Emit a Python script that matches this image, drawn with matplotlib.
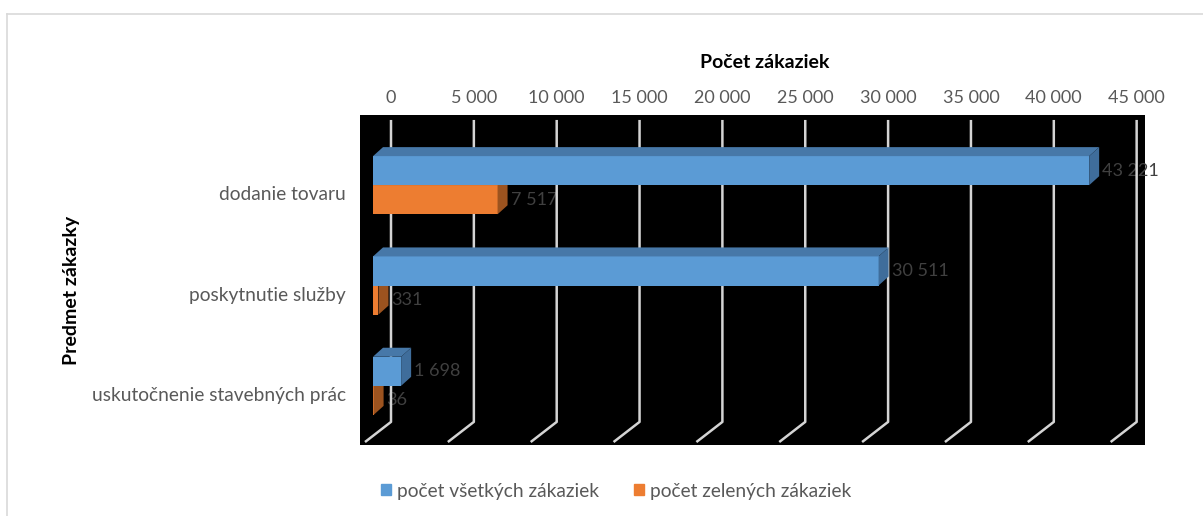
import matplotlib
matplotlib.use('Agg')
import matplotlib.pyplot as plt
from matplotlib.patches import Polygon, Patch
from matplotlib.transforms import ScaledTranslation

plt.rcParams['font.family'] = ['Lato', 'DejaVu Sans']

# data
categories = ['dodanie tovaru', 'poskytnutie služby', 'uskutočnenie stavebných prác']
all_orders = [43221, 30511, 1698]
green_orders = [7517, 331, 36]
series_names = ['počet všetkých zákaziek', 'počet zelených zákaziek']
x_ticks = list(range(0, 45001, 5000))

BLUE = '#5b9bd5'
BLUE_TOP = '#4778a8'
BLUE_SIDE = '#3f6d9b'
ORANGE = '#ed7d31'
ORANGE_TOP = '#c0652a'
ORANGE_SIDE = '#9c531f'
GRID = '#d4d4d4'
TEXT = '#595959'


def fmt(v):
    return f'{v:,}'.replace(',', ' ')


W, H = 1203, 516
fig = plt.figure(figsize=(W / 100, H / 100), dpi=100)
ax = fig.add_axes([360 / W, 71 / H, 785 / W, 330 / H])
ax.set_facecolor('black')
for s in ax.spines.values():
    s.set_visible(False)

# front plane: 0 sits 13 px inside the plot, 16.57 px per 1000
px_per_unit = 16.57 / 1000
ax.set_xlim(-13 / px_per_unit, (785 - 13) / px_per_unit)
ax.set_ylim(2.59, -0.70)

pos = list(range(len(categories)))
h = 0.29
bars_g = ax.barh([p + h / 2 for p in pos], green_orders, height=h, color=ORANGE, zorder=3)
bars_a = ax.barh([p - h / 2 for p in pos], all_orders, height=h, color=BLUE, zorder=4)

to_data = ax.transData.inverted()
DX, DY = 10, 9  # depth of the bars in pixels


def add_depth(bar, top_col, side_col, z):
    x0, y0 = bar.get_x(), bar.get_y()
    (l, b), (r, t) = ax.transData.transform([(x0, y0 + bar.get_height()), (x0 + bar.get_width(), y0)])
    top = [(l, t), (r, t), (r + DX, t + DY), (l + DX, t + DY)]
    side = [(r, t), (r, b), (r + DX, b + DY), (r + DX, t + DY)]
    ax.add_patch(Polygon(to_data.transform(top), closed=True, color=top_col, lw=0, zorder=z))
    ax.add_patch(Polygon(to_data.transform(side), closed=True, color=side_col, lw=0, zorder=z))


for bar in bars_g:
    add_depth(bar, ORANGE_TOP, ORANGE_SIDE, 3)
for bar in bars_a:
    add_depth(bar, BLUE_TOP, BLUE_SIDE, 4)

# gridlines on the back wall, bending onto the floor
y_top = ax.transAxes.transform((0, 0.985))[1]
y_bend = ax.transAxes.transform((0, 0.070))[1]
y_end = ax.transAxes.transform((0, 0.009))[1]
for v in x_ticks:
    xb = ax.transData.transform((v, 0))[0] + 18
    pts = to_data.transform([(xb, y_top), (xb, y_bend), (xb - 26, y_end)])
    ax.plot(pts[:, 0], pts[:, 1], color=GRID, lw=1.8, zorder=2, solid_capstyle='butt')

# data labels
for vals, offs in ((all_orders, -h / 2), (green_orders, h / 2)):
    for p, v in zip(pos, vals):
        ax.annotate(fmt(v), (v, p + offs), xytext=(13, 0), textcoords='offset pixels',
                    va='center', ha='left', color='#404040', fontsize=13,
                    annotation_clip=False, zorder=1)

# axes ticks
ax.xaxis.tick_top()
ax.set_xticks(x_ticks)
ax.set_xticklabels([fmt(v) for v in x_ticks])
ax.tick_params(axis='x', length=0, pad=6.5, labelsize=13, labelcolor=TEXT)
for lab in ax.get_xticklabels():
    lab.set_transform(lab.get_transform() + ScaledTranslation(0.18, 0, fig.dpi_scale_trans))

ax.set_yticks(pos)
ax.set_yticklabels(categories)
ax.tick_params(axis='y', length=0, pad=10, labelsize=13.8, labelcolor=TEXT)
for lab in ax.get_yticklabels():
    lab.set_transform(lab.get_transform() + ScaledTranslation(0, -0.08, fig.dpi_scale_trans))

fig.text(765 / W, 1 - 63 / H, 'Počet zákaziek', ha='center', va='center',
         fontsize=14, fontweight='bold', color='black')
fig.text(71 / W, 1 - 290 / H, 'Predmet zákazky', ha='center', va='center',
         rotation=90, fontsize=14, fontweight='bold', color='black')

handles = [Patch(color=BLUE), Patch(color=ORANGE)]
fig.legend(handles, series_names, loc='center', bbox_to_anchor=(616 / W, 1 - 491 / H),
           ncol=2, frameon=False, fontsize=13.8, labelcolor=TEXT,
           handlelength=0.55, handleheight=0.55, handletextpad=0.3, columnspacing=1.8)

# chart border
fig.add_artist(plt.Line2D([7 / W, 7 / W], [0, 1 - 14 / H], color='#d9d9d9', lw=1.2))
fig.add_artist(plt.Line2D([7 / W, 1], [1 - 14 / H, 1 - 14 / H], color='#d9d9d9', lw=1.2))

fig.savefig('out.png', dpi=100, facecolor='white')
